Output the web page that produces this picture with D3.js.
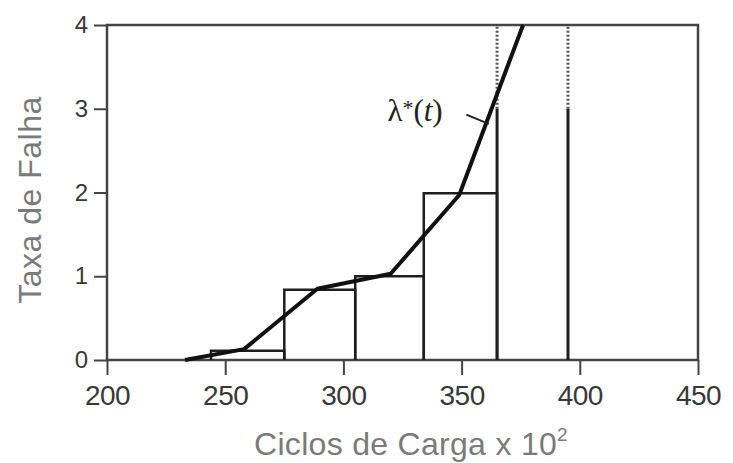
<!DOCTYPE html>
<html>
<head>
<meta charset="utf-8">
<script src="https://cdn.jsdelivr.net/npm/d3@7"></script>
<style>
  body { margin: 0; background: #fff; }
  svg { display: block; }
</style>
</head>
<body>
<div id="chart"></div>
<script>
// bins of the histogram (cycles x 10^2) and their heights
const binEdges = [244, 275, 305, 334, 365, 395];
const binHeights = [0.11, 0.84, 1.0, 1.99];
const openBinCut = 3.0;          // last bin runs off the top: solid to 3, dotted above

// lambda*(t) polyline
const lamX = [233, 258, 289, 320, 349, 376];
const lamY = [0, 0.13, 0.85, 1.03, 1.97, 4.0];

const xTicks = [200, 250, 300, 350, 400, 450];
const yTicks = [0, 1, 2, 3, 4];

const width = 733, height = 463;
const margin = {top: 25, right: 35, bottom: 103, left: 107};

const svg = d3.select("#chart").append("svg")
    .attr("width", width)
    .attr("height", height);

const x = d3.scaleLinear().domain([200, 450]).range([margin.left, width - margin.right]);
const y = d3.scaleLinear().domain([0, 4]).range([height - margin.bottom, margin.top]);

const axisColor = "#444";
const sans = "'Liberation Sans', Arial, sans-serif";

// frame
svg.append("rect")
    .attr("x", x(200)).attr("y", y(4))
    .attr("width", x(450) - x(200)).attr("height", y(0) - y(4))
    .attr("fill", "none").attr("stroke", axisColor).attr("stroke-width", 2.5);

// x axis
const xAxis = svg.append("g")
    .attr("transform", `translate(0,${y(0)})`)
    .call(d3.axisBottom(x).tickValues(xTicks).tickSize(15).tickPadding(10).tickFormat(d3.format("d")));
xAxis.select(".domain").remove();
xAxis.selectAll("line").attr("stroke", axisColor).attr("stroke-width", 2);
xAxis.selectAll("text")
    .attr("fill", "#383838").attr("font-family", sans).attr("font-size", 28)
    .attr("letter-spacing", -0.5)
    .attr("dy", "0.71em");

// y axis
const yAxis = svg.append("g")
    .attr("transform", `translate(${x(200)},0)`)
    .call(d3.axisLeft(y).tickValues(yTicks).tickSize(13).tickPadding(6).tickFormat(d3.format("d")));
yAxis.select(".domain").remove();
yAxis.selectAll("line").attr("stroke", axisColor).attr("stroke-width", 2);
yAxis.selectAll("text")
    .attr("fill", "#383838").attr("font-family", sans).attr("font-size", 24);

// histogram bars (left, top, right sides)
const bars = svg.append("g")
    .attr("fill", "none").attr("stroke", "#1e1e1e").attr("stroke-width", 2.5);

binHeights.forEach((h, i) => {
    const x0 = x(binEdges[i]), x1 = x(binEdges[i + 1]);
    bars.append("path")
        .attr("d", `M${x0},${y(0)}V${y(h)}H${x1}V${y(0)}`);
});

// open last bin
const last = binEdges.length - 2;
[binEdges[last], binEdges[last + 1]].forEach(e => {
    bars.append("line")
        .attr("x1", x(e)).attr("x2", x(e))
        .attr("y1", y(0)).attr("y2", y(openBinCut))
        .attr("stroke-width", 3);
    bars.append("line")
        .attr("x1", x(e)).attr("x2", x(e))
        .attr("y1", y(openBinCut)).attr("y2", y(4))
        .attr("stroke-width", 3)
        .attr("stroke", "#555")
        .attr("stroke-dasharray", "2,2");
});

// lambda*(t)
const line = d3.line().x(d => x(d[0])).y(d => y(d[1]));
svg.append("path")
    .datum(d3.zip(lamX, lamY))
    .attr("d", line)
    .attr("fill", "none")
    .attr("stroke", "#111")
    .attr("stroke-width", 4)
    .attr("stroke-linejoin", "round");

// annotation
const lbl = svg.append("text")
    .attr("x", x(342)).attr("y", y(2.85))
    .attr("text-anchor", "end")
    .attr("font-family", "'Liberation Serif', 'Times New Roman', serif")
    .attr("font-size", 31)
    .attr("fill", "#222");
lbl.append("tspan").text("λ");
lbl.append("tspan").attr("font-size", 22).attr("dy", -6).text("*");
lbl.append("tspan").attr("dy", 6).text("(");
lbl.append("tspan").attr("font-style", "italic").text("t");
lbl.append("tspan").text(")");

svg.append("line")
    .attr("x1", x(352)).attr("y1", y(2.93))
    .attr("x2", x(361.5)).attr("y2", y(2.82))
    .attr("stroke", "#222").attr("stroke-width", 2);

// axis titles
const xt = svg.append("text")
    .attr("x", 411).attr("y", 455)
    .attr("text-anchor", "middle")
    .attr("font-family", sans).attr("font-size", 32)
    .attr("letter-spacing", 0.3)
    .attr("fill", "#7a7a7a")
    .text("Ciclos de Carga x 10");
xt.append("tspan").attr("font-size", 19).attr("dy", -14).text("2");

svg.append("text")
    .attr("transform", `translate(41,200) rotate(-90)`)
    .attr("text-anchor", "middle")
    .attr("font-family", sans).attr("font-size", 32)
    .attr("letter-spacing", 0.5)
    .attr("fill", "#7a7a7a")
    .text("Taxa de Falha");
</script>
</body>
</html>
